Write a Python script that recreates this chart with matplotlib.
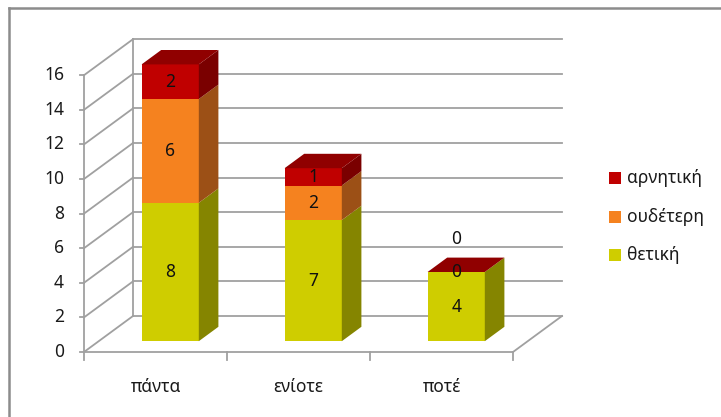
import matplotlib.pyplot as plt
from matplotlib.patches import Polygon, Rectangle

plt.rcParams['font.family'] = ['Noto Sans', 'DejaVu Sans']

# data
categories = ['πάντα', 'ενίοτε', 'ποτέ']
thetiki = [8, 7, 4]
oudeteri = [6, 2, 0]
arnitiki = [2, 1, 0]
series_names = ['θετική', 'ουδέτερη', 'αρνητική']
yticks = [0, 2, 4, 6, 8, 10, 12, 14, 16]

# colours: front, side, top
front_cols = ['#cfcd00', '#f5821f', '#c00000']
side_cols = ['#858500', '#9c5016', '#7a0000']
top_cols = ['#a6a400', '#c46a1a', '#900000']
grid_col = '#a0a0a0'

# pixel layout of the fake 3d box
W, H = 721, 417
X0, CAT = 84, 143.0      # front-left corner x, px per category
Y0, UNIT = 352, 17.3     # floor y, px per unit
DX = 49 / CAT            # depth offset in data units
DY = 36 / UNIT

fig = plt.figure(figsize=(W / 100, H / 100), dpi=100)
ax = fig.add_axes([0, 0, 1, 1])
ax.set_xlim(-X0 / CAT, (W - X0) / CAT)
ax.set_ylim(-(H - Y0) / UNIT, Y0 / UNIT)
ax.axis('off')

def px(x, y):
    return (x - X0) / CAT, (Y0 - y) / UNIT

ymax = yticks[-1]
ncat = len(categories)

# walls and grid
for yt in yticks:
    ax.plot([DX, ncat + DX], [yt + DY, yt + DY], color=grid_col, lw=1.3, zorder=1)
    ax.plot([0, DX], [yt, yt + DY], color=grid_col, lw=1.3, zorder=1)
    ax.plot([-4 / CAT, 0], [yt, yt], color=grid_col, lw=1.3, zorder=1)
    ax.text(-20 / CAT, yt, str(yt), ha='right', va='center', fontsize=12.5, color='#1a1a1a')
ax.plot([DX, DX], [DY, ymax + DY], color=grid_col, lw=1.3, zorder=1)
ax.plot([0, 0], [0, ymax], color=grid_col, lw=1.3, zorder=1)
ax.plot([0, ncat], [0, 0], color=grid_col, lw=1.3, zorder=1)
ax.plot([ncat, ncat + DX], [0, DY], color=grid_col, lw=1.3, zorder=1)
for i in range(ncat + 1):
    ax.plot([i, i], [0, -8 / UNIT], color=grid_col, lw=1.3, zorder=1)
for i, c in enumerate(categories):
    ax.text(i + 0.5, -35 / UNIT, c, ha='center', va='center', fontsize=12.5, color='#1a1a1a')

# bars
series = [thetiki, oudeteri, arnitiki]
bw = 0.4
d0, d1 = 0.3, 0.7
ddx, ddy = (d1 - d0) * DX, (d1 - d0) * DY
for i in range(ncat):
    xl = i + 0.5 - bw / 2 + d0 * DX
    xr = xl + bw
    by = d0 * DY
    bottom = 0
    nzero = 0
    for s, vals in enumerate(series):
        v = vals[i]
        top = bottom + v
        if v > 0:
            ax.add_patch(Rectangle((xl, by + bottom), bw, v, facecolor=front_cols[s],
                                   edgecolor='none', zorder=3))
            ax.add_patch(Polygon([(xr, by + bottom), (xr + ddx, by + bottom + ddy),
                                  (xr + ddx, by + top + ddy), (xr, by + top)],
                                 facecolor=side_cols[s], edgecolor='none', zorder=3))
            ly = by + bottom + v / 2
        else:
            ly = by + bottom + 1.9 * nzero
            nzero += 1
        ax.text((xl + xr) / 2, ly, str(v), ha='center', va='center', fontsize=12.5,
                color='#111111', zorder=5)
        bottom = top
    s = len(series) - 1
    ax.add_patch(Polygon([(xl, by + bottom), (xl + ddx, by + bottom + ddy),
                          (xr + ddx, by + bottom + ddy), (xr, by + bottom)],
                         facecolor=top_cols[s], edgecolor='none', zorder=3))

# legend
for k, s in enumerate([2, 1, 0]):
    ly = 178 + k * 38.5
    x, y = px(609, ly + 6)
    ax.add_patch(Rectangle((x, y), 12 / CAT, 12 / UNIT, facecolor=front_cols[s],
                           edgecolor='none'))
    tx, ty = px(627, ly)
    ax.text(tx, ty, series_names[s], ha='left', va='center', fontsize=12.5, color='#1a1a1a')

# outer frame (partly cropped)
fig.add_artist(plt.Line2D([9 / W, 9 / W], [0, 1 - 8 / H], color='#8c8c8c', lw=1.8))
fig.add_artist(plt.Line2D([9 / W, 1], [1 - 8 / H, 1 - 8 / H], color='#8c8c8c', lw=1.8))

fig.savefig('out.png', dpi=100)
